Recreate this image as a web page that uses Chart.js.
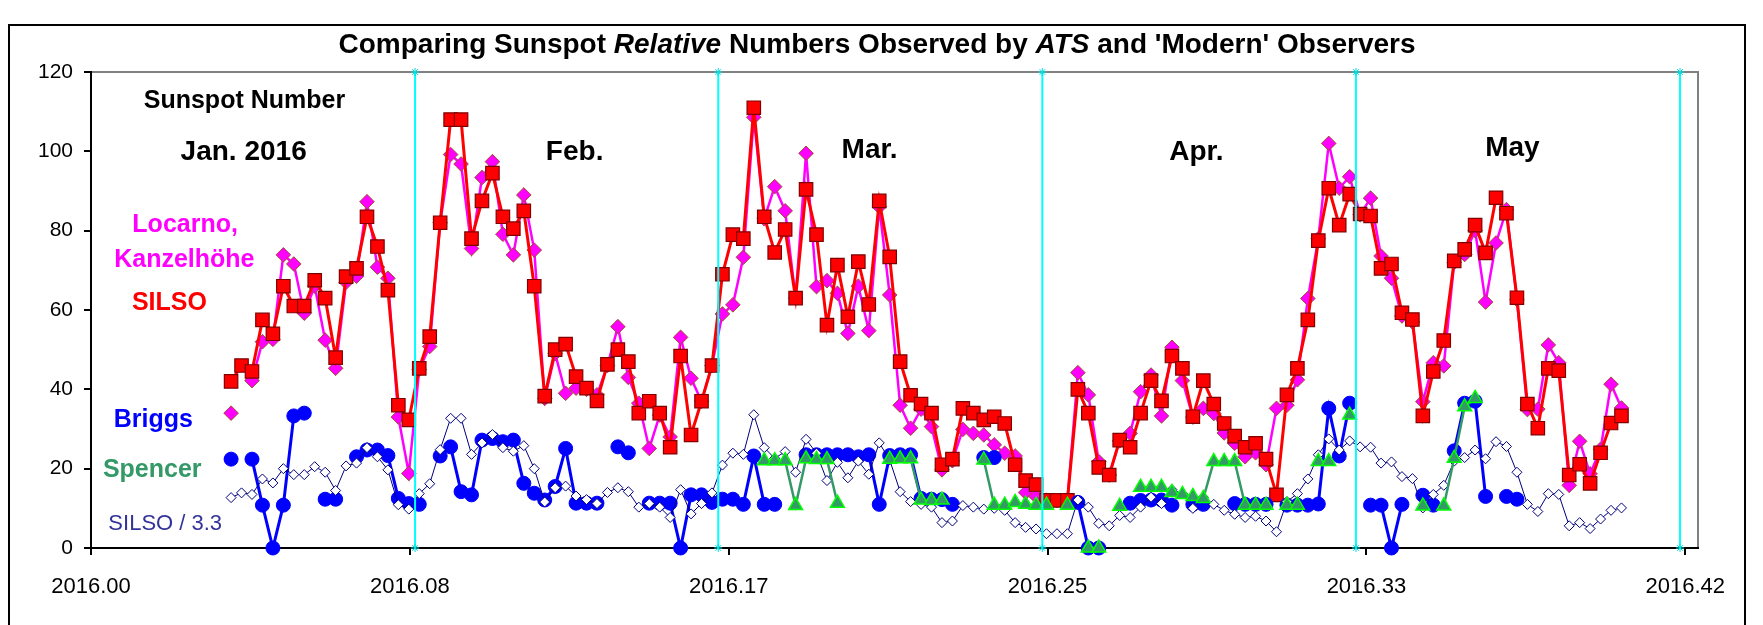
<!DOCTYPE html>
<html lang="en">
<head>
<meta charset="UTF-8">
<title>Sunspot relative numbers 2016</title>
<script src="https://cdn.jsdelivr.net/npm/chart.js@4"></script>
<style>
    body {
        margin: 0;
        padding: 0;
        background: #ffffff;
    }
    .wrap {
        width: 1763px;
        height: 625px;
    }
</style>
</head>
<body>
<div class="wrap"><canvas id="chart" width="1763" height="625"></canvas></div>

<script>
// day of year of the first value (0 = 1 Jan 2016), one value per day after it
const firstDay = 13;

const silso = [
    42, 46, 44.5, 57.5, 54, 66, 61, 61, 67.5, 63,
    48, 68.4, 70.5, 83.5, 76, 65, 36, 32.3, 45.3, 53.3,
    82, 108, 108, 78, 87.5, 94.5, 83.5, 80.5, 85, 66,
    38.3, 50, 51.4, 43.2, 40.3, 37.1, 46.3, 50, 47, 34,
    37, 34, 25.4, 48.4, 28.5, 37, 46, 69, 79, 78,
    111, 83.5, 74.5, 80.3, 63, 90.4, 79, 56.2, 71.3, 58.3,
    72.2, 61.4, 87.5, 73.4, 47, 38.5, 36.3, 34, 21, 22.4,
    35.2, 34, 32.3, 33.1, 31.4, 21, 17, 16, 12, 12,
    12, 40, 34, 20.3, 18.4, 27.2, 25.4, 34, 42.2, 37.1,
    48.4, 45.3, 33.1, 42.2, 36.3, 31.4, 28.2, 25.4, 26.4, 22.4,
    13.4, 38.6, 45.3, 57.5, 77.5, 90.7, 81.4, 89.2, 84.2, 83.7,
    70.5, 71.6, 59.3, 57.6, 33.3, 44.5, 52.3, 72.4, 75.3, 81.4,
    74.4, 88.3, 84.4, 63.1, 36.3, 30.2, 45.3, 44.7, 18.4, 21.1,
    16.3, 24, 31.5, 33.3
];

const locarno = [
    34, null, 42.2, 52, 52.6, 73.9, 71.6, 59.2, 66, 52.4,
    45.3, 67, 68.5, 87.3, 70.8, 68, 33, 18.8, 45, 50.8,
    82, 99.2, 96.8, 75.5, 93.4, 97.4, 79.1, 73.9, 89, 75.1,
    37.7, 49, 39, 40.3, 40, 38.6, 46, 55.8, 43, 36.5,
    25.1, 33.5, 28, 53.1, 42.8, 37, 46, 59, 61.3, 73.3,
    108.6, 83, 91.1, 85, 63, 99.5, 65.9, 67.4, 64.2, 54.1,
    66, 54.8, 86, 63.8, 36, 30.2, 35, 30.6, 19.7, 22,
    29.9, 28.9, 28.5, 26, 23.9, 23.2, 14, 13, 12, 12,
    12, 44.2, 38.6, 21.8, 18.4, 27, 28.9, 39.4, 43.6, 33.3,
    50.6, 42.2, 33, 35.2, 33.9, 29, 26.4, 23, 24, 21,
    35.2, 36, 42.4, 62.9, 78, 102, 90.7, 93.6, 84, 88.2,
    73.6, 68, 58.5, 57, 36.9, 46.7, 45.9, 72, 74, 80,
    62, 76.9, 85.3, 62.6, 34.9, 35, 51.2, 46.7, 15.8, 26.9,
    18.7, 24.9, 41.3, 35.3
];

const briggs = [
    22.4, null, 22.4, 10.8, 0, 10.8, 33.3, 34, null, 12.3,
    12.3, null, 23, 24.7, 24.7, 23.3, 12.5, 11.2, 11, null,
    23.2, 25.5, 14.2, 13.4, 27.2, 27.6, 26.8, 27.2, 16.3, 13.8,
    12.1, 15.5, 25.1, 11.3, 11.3, 11.3, null, 25.5, 24, null,
    11.3, 11.3, 11.3, 0, 13.4, 13.4, 11.5, 12.3, 12.3, 11,
    23.2, 11, 11, null, null, 23.5, 23.5, 23.5, 23.5, 23.5,
    23, 23.5, 11, 23.3, 23.5, 23.5, 12.5, 12.3, 12.2, 11,
    null, null, 22.8, 22.8, null, null, null, null, null, null,
    null, 11.5, 0, 0, null, null, 11.3, 12, 12.1, 12.1,
    10.8, null, 11, 11, null, null, 11.2, 11, 11, 11,
    null, 10.8, 10.8, 10.8, 11.1, 35.2, 23.2, 36.5, null, 10.8,
    10.8, 0, 11, null, 13.3, 10.8, null, 24.5, 36.5, 37,
    13, null, 13, 12.3, null, null, null, null, null, null,
    null, null, null, null
];

const spencer = [
    null, null, null, null, null, null, null, null, null, null,
    null, null, null, null, null, null, null, null, null, null,
    null, null, null, null, null, null, null, null, null, null,
    null, null, null, null, null, null, null, null, null, null,
    null, null, null, null, null, null, null, null, null, null,
    null, 22, 22, 22, 10.7, 22.5, 22.3, 22.3, 11.3, null,
    null, null, null, 22.4, 22.5, 22.5, 12.1, 12, 12.1, null,
    null, null, 22.2, 10.8, 10.8, 11.5, 11, 10.8, 10.8, null,
    10.8, null, 0, 0, null, 10.5, null, 15.3, 15.3, 15.3,
    14, 13.5, 13, 12.5, 21.8, 21.8, 21.8, 10.8, 10.8, 10.8,
    null, 10.8, 10.8, null, 21.8, 21.8, null, 33.5, null, null,
    null, null, null, null, 10.6, null, 10.6, 22.6, 35.6, 37.7,
    null, null, null, null, null, null, null, null, null, null,
    null, null, null, null
];

const silsoDiv = [
    12.7, 13.9, 13.5, 17.4, 16.4, 20, 18.5, 18.5, 20.5, 19.1,
    14.5, 20.7, 21.4, 25.3, 23, 19.7, 10.9, 9.8, 13.7, 16.2,
    24.8, 32.7, 32.7, 23.6, 26.5, 28.6, 25.3, 24.4, 25.8, 20,
    11.6, 15.2, 15.6, 13.1, 12.2, 11.2, 14, 15.2, 14.2, 10.3,
    11.2, 10.3, 7.7, 14.7, 8.6, 11.2, 13.9, 20.9, 23.9, 23.6,
    33.6, 25.3, 22.6, 24.3, 19.1, 27.4, 23.9, 17, 21.6, 17.7,
    21.9, 18.6, 26.5, 22.2, 14.2, 11.7, 11, 10.3, 6.4, 6.8,
    10.7, 10.3, 9.8, 10, 9.5, 6.4, 5.2, 4.8, 3.6, 3.6,
    3.6, 12.1, 10.3, 6.2, 5.6, 8.2, 7.7, 10.3, 12.8, 11.2,
    14.7, 13.7, 10, 12.8, 11, 9.5, 8.5, 7.7, 8, 6.8,
    4.1, 11.7, 13.7, 17.4, 23.5, 27.5, 24.7, 27, 25.5, 25.4,
    21.4, 21.7, 18, 17.5, 10.1, 13.5, 15.8, 21.9, 22.8, 24.7,
    22.5, 26.8, 25.6, 19.1, 11, 9.2, 13.7, 13.5, 5.6, 6.4,
    4.9, 7.3, 9.5, 10.1
];

// first day of Feb, Mar, Apr, May, Jun (day of year)
const monthStarts = [31, 60, 91, 121, 152];
const xTickLabels = ['2016.00', '2016.08', '2016.17', '2016.25', '2016.33', '2016.42'];
const yTicks = [0, 20, 40, 60, 80, 100, 120];

const FONT = '"Liberation Sans", Arial, sans-serif';

function toYear(day) {
    return 2016 + (day + 0.4) / 366;
}
function points(values) {
    return values.map((v, i) => ({ x: toYear(firstDay + i), y: v }));
}

const monthLines = monthStarts.map(d => ({
    data: [{ x: 2016 + d / 366, y: 0 }, { x: 2016 + d / 366, y: 120 }],
    borderColor: '#00ffff',
    borderWidth: 2,
    pointStyle: 'star',
    pointRadius: 4,
    pointBorderColor: '#00e0e0',
    pointBorderWidth: 1,
    clip: false
}));

// in-plot captions, placed in data units
const captions = [
    { text: 'Sunspot Number', x: 2016.0401, y: 110.9, color: '#000000', font: 'bold 25px ' + FONT },
    { text: 'Jan. 2016', x: 2016.0399, y: 97.8, color: '#000000', font: 'bold 28px ' + FONT },
    { text: 'Feb.', x: 2016.1264, y: 97.8, color: '#000000', font: 'bold 28px ' + FONT },
    { text: 'Mar.', x: 2016.2035, y: 98.3, color: '#000000', font: 'bold 28px ' + FONT },
    { text: 'Apr.', x: 2016.2889, y: 97.8, color: '#000000', font: 'bold 28px ' + FONT },
    { text: 'May', x: 2016.3715, y: 98.8, color: '#000000', font: 'bold 28px ' + FONT },
    { text: 'Locarno,', x: 2016.0246, y: 79.7, color: '#ff00ff', font: 'bold 25px ' + FONT },
    { text: 'Kanzelhöhe', x: 2016.0244, y: 70.8, color: '#ff00ff', font: 'bold 25px ' + FONT },
    { text: 'SILSO', x: 2016.0205, y: 60, color: '#ff0000', font: 'bold 25px ' + FONT },
    { text: 'Briggs', x: 2016.0163, y: 30.5, color: '#0000ff', font: 'bold 25px ' + FONT },
    { text: 'Spencer', x: 2016.0160, y: 17.9, color: '#339966', font: 'bold 25px ' + FONT },
    { text: 'SILSO / 3.3', x: 2016.0194, y: 4.5, color: '#333399', font: '22px ' + FONT }
];

const titleParts = [
    ['Comparing Sunspot ', false],
    ['Relative', true],
    [' Numbers Observed by ', false],
    ['ATS', true],
    [" and 'Modern' Observers", false]
];

const framePlugin = {
    id: 'frame',
    beforeDraw(chart) {
        const ctx = chart.ctx;
        const a = chart.chartArea;
        ctx.save();
        ctx.fillStyle = '#ffffff';
        ctx.fillRect(0, 0, chart.width, chart.height);
        // outer chart border
        ctx.strokeStyle = '#000000';
        ctx.lineWidth = 2;
        ctx.strokeRect(9, 25, 1736, 640);
        // plot area box
        ctx.strokeStyle = '#808080';
        ctx.lineWidth = 2;
        ctx.strokeRect(a.left, a.top, a.right - a.left, a.bottom - a.top);
        // title with italic words
        ctx.fillStyle = '#000000';
        ctx.textBaseline = 'alphabetic';
        let total = 0;
        titleParts.forEach(p => {
            ctx.font = (p[1] ? 'italic bold ' : 'bold ') + '28px ' + FONT;
            total += ctx.measureText(p[0]).width;
        });
        let x = 877 - total / 2;
        titleParts.forEach(p => {
            ctx.font = (p[1] ? 'italic bold ' : 'bold ') + '28px ' + FONT;
            ctx.fillText(p[0], x, 53);
            x += ctx.measureText(p[0]).width;
        });
        ctx.restore();
    },
    afterDraw(chart) {
        const ctx = chart.ctx;
        const xs = chart.scales.x;
        const ys = chart.scales.y;
        ctx.save();
        ctx.textAlign = 'center';
        ctx.textBaseline = 'alphabetic';
        captions.forEach(c => {
            ctx.font = c.font;
            ctx.fillStyle = c.color;
            ctx.fillText(c.text, xs.getPixelForValue(c.x), ys.getPixelForValue(c.y));
        });
        ctx.restore();
    }
};

const ctx = document.getElementById('chart').getContext('2d');

new Chart(ctx, {
    type: 'line',
    data: {
        datasets: [
            ...monthLines,
            {
                label: 'Spencer',
                data: points(spencer),
                borderColor: '#339966',
                borderWidth: 2.5,
                pointStyle: 'triangle',
                pointRadius: 8,
                pointBackgroundColor: '#339966',
                pointBorderColor: '#00ff00',
                pointBorderWidth: 1.5,
                clip: false
            },
            {
                label: 'SILSO / 3.3',
                data: points(silsoDiv),
                borderColor: '#000080',
                borderWidth: 1,
                pointStyle: 'rectRot',
                pointRadius: 5,
                pointBackgroundColor: '#ffffff',
                pointBorderColor: '#000080',
                pointBorderWidth: 1,
                clip: false
            },
            {
                label: 'Briggs',
                data: points(briggs),
                borderColor: '#0000ff',
                borderWidth: 3,
                pointStyle: 'circle',
                pointRadius: 7,
                pointBackgroundColor: '#0000ff',
                pointBorderColor: '#0000ff',
                pointBorderWidth: 1,
                clip: false
            },
            {
                label: 'SILSO',
                data: points(silso),
                borderColor: '#ff0000',
                borderWidth: 3,
                pointStyle: 'rect',
                pointRadius: 9.5,
                pointBackgroundColor: '#ff0000',
                pointBorderColor: '#800000',
                pointBorderWidth: 1.2,
                clip: false
            },
            {
                label: 'Locarno, Kanzelhöhe',
                data: points(locarno),
                borderColor: '#ff00ff',
                borderWidth: 2.5,
                pointStyle: 'rectRot',
                pointRadius: 7.3,
                pointBackgroundColor: '#ff00ff',
                pointBorderColor: '#a0522d',
                pointBorderWidth: 1,
                clip: false
            }
        ]
    },
    options: {
        responsive: false,
        animation: false,
        devicePixelRatio: 1,
        layout: { padding: { left: 0, right: 65, top: 72, bottom: 0 } },
        elements: { line: { tension: 0 } },
        plugins: {
            legend: { display: false },
            tooltip: { enabled: false },
            title: { display: false }
        },
        scales: {
            x: {
                type: 'linear',
                min: 2016,
                max: 2016.42,
                afterBuildTicks(axis) {
                    axis.ticks = xTickLabels.map((t, i) => ({ value: 2016 + i / 12 }));
                },
                afterFit(axis) { axis.height = 77; },
                ticks: {
                    callback: (v, i) => xTickLabels[i],
                    font: { family: FONT, size: 22 },
                    color: '#000000',
                    padding: 19,
                    maxRotation: 0,
                    autoSkip: false
                },
                grid: { display: true, drawOnChartArea: false, drawTicks: true, tickLength: 7, color: '#000000', lineWidth: 2 },
                border: { display: true, color: '#000000', width: 2 }
            },
            y: {
                min: 0,
                max: 120,
                afterBuildTicks(axis) {
                    axis.ticks = yTicks.map(v => ({ value: v }));
                },
                afterFit(axis) { axis.width = 91; },
                ticks: {
                    font: { family: FONT, size: 21 },
                    color: '#000000',
                    padding: 11
                },
                grid: { display: true, drawOnChartArea: false, drawTicks: true, tickLength: 7, color: '#000000', lineWidth: 2 },
                border: { display: true, color: '#000000', width: 2 }
            }
        }
    },
    plugins: [framePlugin]
});
</script>
</body>
</html>
